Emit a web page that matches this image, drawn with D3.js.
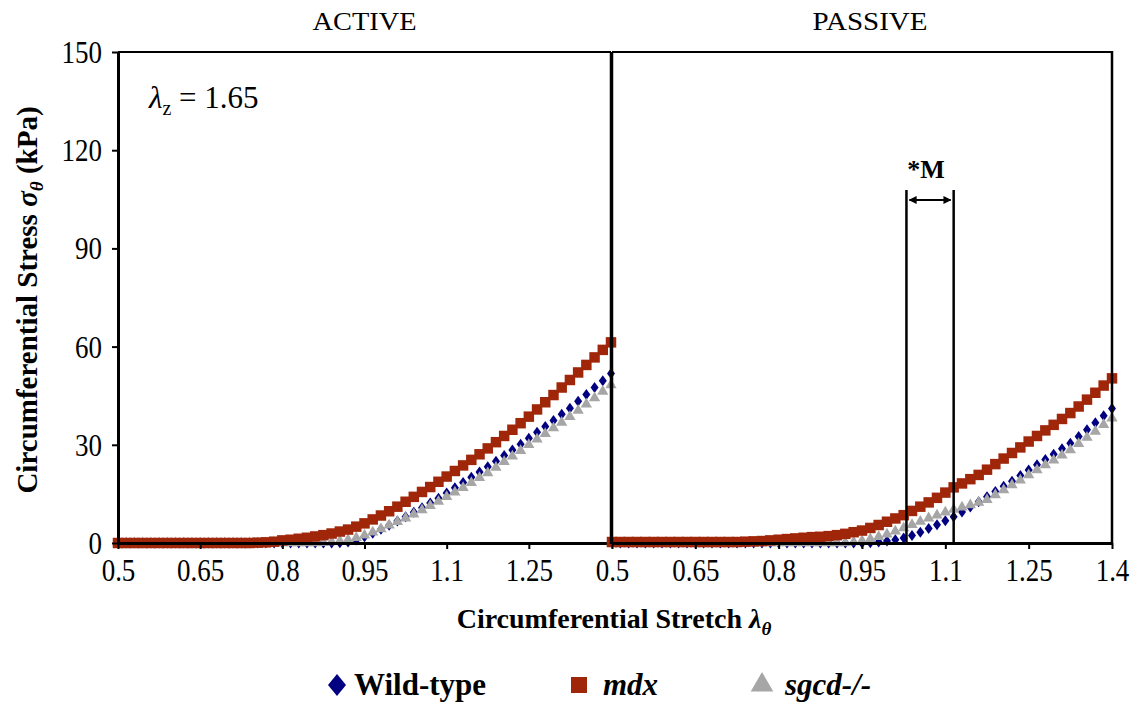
<!DOCTYPE html>
<html>
<head>
<meta charset="utf-8">
<script src="https://d3js.org/d3.v7.min.js"></script>
<style>
  body { margin: 0; background: #fff; }
  svg { display: block; }
  text { font-family: "Liberation Serif", "Times New Roman", serif; fill: #000; }
</style>
</head>
<body>
<svg id="drawing_region"></svg>
<script>
// circumferential stretch values (x), same for every series
const stretch = [
    0.5, 0.515, 0.53, 0.545, 0.56, 0.575, 0.59, 0.605, 0.62, 0.635,
    0.65, 0.665, 0.68, 0.695, 0.71, 0.725, 0.74, 0.755, 0.77, 0.785,
    0.8, 0.815, 0.83, 0.845, 0.86, 0.875, 0.89, 0.905, 0.92, 0.935,
    0.95, 0.965, 0.98, 0.995, 1.01, 1.025, 1.04, 1.055, 1.07, 1.085,
    1.1, 1.115, 1.13, 1.145, 1.16, 1.175, 1.19, 1.205, 1.22, 1.235,
    1.25, 1.265, 1.28, 1.295, 1.31, 1.325, 1.34, 1.355, 1.37, 1.385,
    1.4
];

// ACTIVE stress (kPa)
const activeWT = [
    0, 0, 0, 0, 0, 0, 0, 0, 0, 0,
    0, 0, 0, 0, 0, 0, 0, 0, 0, 0,
    0, 0, 0, 0, 0, 0, 0, 0.1, 0.3, 0.9,
    1.9, 3.0, 4.2, 5.4, 6.7, 8.0, 9.4, 10.8, 12.2, 13.7,
    15.3, 16.9, 18.5, 20.1, 21.7, 23.3, 25.0, 26.7, 28.4, 30.2,
    32.0, 33.8, 35.6, 37.4, 39.3, 41.2, 43.3, 45.4, 47.5, 49.6,
    51.8
];
const activeMdx = [
    0, 0, 0, 0, 0, 0, 0, 0, 0, 0,
    0, 0, 0, 0, 0, 0, 0, 0.1, 0.2, 0.4,
    0.8, 1.0, 1.3, 1.6, 2.0, 2.4, 2.9, 3.5, 4.1, 5.0,
    6.0, 7.2, 8.4, 9.7, 11.1, 12.6, 14.1, 15.6, 17.1, 18.7,
    20.3, 22.0, 23.7, 25.4, 27.1, 28.9, 30.8, 32.7, 34.6, 36.6,
    38.6, 40.8, 43.0, 45.2, 47.5, 49.8, 52.1, 54.4, 56.7, 59.0,
    61.3
];
const activeSgcd = [
    0, 0, 0, 0, 0, 0, 0, 0, 0, 0,
    0, 0, 0, 0, 0, 0, 0, 0, 0, 0,
    0, 0, 0, 0, 0, 0.1, 0.3, 0.6, 1.0, 1.6,
    2.4, 3.3, 4.3, 5.4, 6.5, 7.6, 8.8, 10.1, 11.4, 12.7,
    14.1, 15.5, 16.9, 18.4, 19.9, 21.4, 23.1, 24.8, 26.5, 28.2,
    30.0, 31.7, 33.4, 35.1, 36.8, 38.6, 40.5, 42.4, 44.3, 46.3,
    48.3
];

// PASSIVE stress (kPa)
const passiveWT = [
    0, 0, 0, 0, 0, 0, 0, 0, 0, 0,
    0, 0, 0, 0, 0, 0, 0, 0, 0, 0,
    0, 0, 0, 0, 0, 0, 0, 0, 0, 0,
    0, 0.1, 0.3, 0.6, 1.0, 1.5, 2.3, 3.3, 4.4, 5.6,
    6.8, 8.0, 9.5, 11.0, 12.6, 14.1, 15.7, 17.3, 18.9, 20.6,
    22.3, 23.9, 25.5, 27.1, 28.8, 30.5, 32.5, 34.6, 36.7, 38.9,
    41.1
];
const passiveMdx = [
    0.3, 0.3, 0.3, 0.3, 0.3, 0.3, 0.3, 0.3, 0.3, 0.3,
    0.3, 0.3, 0.3, 0.3, 0.3, 0.3, 0.4, 0.5, 0.6, 0.8,
    1.0, 1.2, 1.4, 1.6, 1.8, 1.9, 2.1, 2.4, 2.8, 3.3,
    3.8, 4.6, 5.5, 6.5, 7.5, 8.5, 9.8, 11.1, 12.4, 13.8,
    15.4, 17.0, 18.2, 19.5, 20.8, 22.4, 24.1, 25.8, 27.5, 29.2,
    31.0, 32.7, 34.4, 36.1, 37.9, 39.7, 41.7, 43.8, 45.9, 48.1,
    50.3
];
const passiveSgcd = [
    0, 0, 0, 0, 0, 0, 0, 0, 0, 0,
    0, 0, 0, 0, 0, 0, 0, 0, 0, 0,
    0, 0, 0, 0, 0, 0, 0, 0, 0, 0.3,
    0.7, 1.2, 1.9, 2.7, 3.6, 4.6, 5.6, 6.6, 7.6, 8.5,
    9.4, 10.2, 10.9, 11.6, 12.4, 13.2, 14.7, 16.2, 17.7, 19.2,
    20.8, 22.3, 23.8, 25.3, 26.8, 28.4, 30.3, 32.2, 34.1, 36.1,
    38.1
];

const stretchTicks = [0.5, 0.65, 0.8, 0.95, 1.1, 1.25, 1.4];
const stressTicks = [0, 30, 60, 90, 120, 150];
const panelTitles = ['ACTIVE', 'PASSIVE'];
const seriesNames = ['Wild-type', 'mdx', 'sgcd-/-'];
const markRange = [1.03, 1.115];   // "*M" bracket in the passive panel

const colors = { wt: '#000080', mdx: '#a0260a', sgcd: '#a6a6a6' };

const W = 1138, H = 704;
const svg = d3.select('#drawing_region')
    .attr('width', W)
    .attr('height', H)
    .attr('font-family', '"Liberation Serif", "Times New Roman", serif');

svg.append('rect').attr('width', W).attr('height', H).attr('fill', '#fff');

const yscale = d3.scaleLinear().domain([0, 150]).range([543, 52]);

const panels = [
    { title: panelTitles[0], xscale: d3.scaleLinear().domain([0.5, 1.4]).range([118, 611]),
      ticks: stretchTicks.slice(0, 6), wt: activeWT, mdx: activeMdx, sgcd: activeSgcd },
    { title: panelTitles[1], xscale: d3.scaleLinear().domain([0.5, 1.4]).range([612, 1112]),
      ticks: stretchTicks, wt: passiveWT, mdx: passiveMdx, sgcd: passiveSgcd }
];

const diamond = (w, h) => `M0,${-h / 2}L${w / 2},0L0,${h / 2}L${-w / 2},0Z`;
const marks = {
    wt: diamond(8, 11),
    sgcd: d3.symbol(d3.symbolTriangle, 55)(),
    mdx: d3.symbol(d3.symbolSquare, 110)()
};

const tickFont = 31, squeeze = 0.87;

panels.forEach((p, k) => {
    const x0 = p.xscale.range()[0], x1 = p.xscale.range()[1];

    // top border
    svg.append('line')
        .attr('x1', x0).attr('x2', x1)
        .attr('y1', yscale(150)).attr('y2', yscale(150))
        .attr('stroke', '#000').attr('stroke-width', 2);

    // title
    svg.append('text')
        .attr('x', (x0 + x1) / 2 + (k == 0 ? 0 : 8))
        .attr('y', 30)
        .attr('text-anchor', 'middle')
        .attr('font-size', 25)
        .attr('textLength', k == 0 ? 104 : 115)
        .attr('lengthAdjust', 'spacingAndGlyphs')
        .text(p.title);

    // markers, drawn WT -> sgcd -> mdx
    ['wt', 'sgcd', 'mdx'].forEach(key => {
        svg.append('g')
            .selectAll('path')
            .data(stretch.map((s, i) => ({ s: s, v: p[key][i] })))
            .join('path')
            .attr('d', marks[key])
            .attr('transform', d => `translate(${p.xscale(d.s)},${yscale(d.v)})`)
            .attr('fill', colors[key]);
    });

    // x axis
    const xaxis = d3.axisBottom(p.xscale)
        .tickValues(p.ticks)
        .tickSize(6)
        .tickSizeOuter(0)
        .tickPadding(10)
        .tickFormat(d => String(d));

    const gx = svg.append('g')
        .attr('transform', `translate(0, ${yscale(0)})`)
        .call(xaxis);
    gx.attr('font-family', null).attr('font-size', null);
    gx.select('.domain').attr('stroke-width', 3);
    gx.selectAll('.tick line').attr('stroke-width', 2);
    gx.selectAll('.tick text')
        .attr('font-size', tickFont)
        .attr('transform', `scale(${squeeze},1)`);
});

// y axis on the left panel
const yaxis = d3.axisLeft(yscale)
    .tickValues(stressTicks)
    .tickSize(6)
    .tickSizeOuter(0);

const gy = svg.append('g')
    .attr('transform', `translate(118, 0)`)
    .call(yaxis);
gy.attr('font-family', null).attr('font-size', null);
gy.select('.domain').attr('stroke-width', 3);
gy.selectAll('.tick line').attr('stroke-width', 2);
gy.selectAll('.tick text')
    .attr('font-size', tickFont)
    .attr('x', -16 / squeeze)
    .attr('dy', '0.34em')
    .attr('transform', `scale(${squeeze},1)`);

// divider between panels and right border
svg.append('line')
    .attr('x1', 611.5).attr('x2', 611.5)
    .attr('y1', yscale(150)).attr('y2', yscale(0) + 1)
    .attr('stroke', '#000').attr('stroke-width', 3.5);
svg.append('line')
    .attr('x1', 1112).attr('x2', 1112)
    .attr('y1', yscale(150) - 1).attr('y2', yscale(0))
    .attr('stroke', '#000').attr('stroke-width', 2.5);

// lambda_z note
const lz = svg.append('text')
    .attr('x', 149).attr('y', 108)
    .attr('font-size', 31);
lz.append('tspan').attr('font-style', 'italic').text('λ');
lz.append('tspan').attr('font-size', 20).attr('dy', 7).text('z');
lz.append('tspan').attr('dy', -7).text(' = 1.65');

// "*M" bracket on the passive panel
const xp = panels[1].xscale;
[markRange[0], markRange[1]].forEach(v => {
    svg.append('line')
        .attr('x1', xp(v)).attr('x2', xp(v))
        .attr('y1', 190).attr('y2', yscale(0))
        .attr('stroke', '#000').attr('stroke-width', 2.5);
});
const defs = svg.append('defs');
defs.append('marker')
    .attr('id', 'arrow')
    .attr('viewBox', '0 0 10 10')
    .attr('refX', 9).attr('refY', 5)
    .attr('markerWidth', 4).attr('markerHeight', 4)
    .attr('orient', 'auto-start-reverse')
    .append('path')
    .attr('d', 'M0,0L10,5L0,10Z')
    .attr('fill', '#000');
svg.append('line')
    .attr('x1', xp(markRange[0]) + 3).attr('x2', xp(markRange[1]) - 3)
    .attr('y1', 200).attr('y2', 200)
    .attr('stroke', '#000').attr('stroke-width', 2)
    .attr('marker-start', 'url(#arrow)')
    .attr('marker-end', 'url(#arrow)');
svg.append('text')
    .attr('x', (xp(markRange[0]) + xp(markRange[1])) / 2 - 4)
    .attr('y', 178)
    .attr('text-anchor', 'middle')
    .attr('font-size', 26)
    .attr('font-weight', 'bold')
    .text('*M');

// axis titles
const ylab = svg.append('text')
    .attr('transform', 'translate(37, 300) rotate(-90)')
    .attr('text-anchor', 'middle')
    .attr('font-size', 29)
    .attr('font-weight', 'bold');
ylab.append('tspan').text('Circumferential Stress ');
ylab.append('tspan').attr('font-style', 'italic').text('σ');
ylab.append('tspan').attr('font-style', 'italic').attr('font-size', 19).attr('dy', 6).text('θ');
ylab.append('tspan').attr('dy', -6).text(' (kPa)');

const xlab = svg.append('text')
    .attr('x', 614).attr('y', 628)
    .attr('text-anchor', 'middle')
    .attr('font-size', 28)
    .attr('font-weight', 'bold');
xlab.append('tspan').text('Circumferential Stretch ');
xlab.append('tspan').attr('font-style', 'italic').text('λ');
xlab.append('tspan').attr('font-style', 'italic').attr('font-size', 19).attr('dy', 7).text('θ');

// legend
const legend = [
    { key: 'wt', shape: diamond(18, 22), cx: 337, tx: 354, italic: false },
    { key: 'mdx', shape: d3.symbol(d3.symbolSquare, 256)(), cx: 579, tx: 603, italic: true },
    { key: 'sgcd', shape: d3.symbol(d3.symbolTriangle, 220)(), cx: 762, tx: 785, italic: true }
];
legend.forEach((d, i) => {
    svg.append('path')
        .attr('d', d.shape)
        .attr('transform', `translate(${d.cx}, 685)`)
        .attr('fill', colors[d.key]);
    svg.append('text')
        .attr('x', d.tx).attr('y', 695)
        .attr('font-size', 31)
        .attr('font-weight', 'bold')
        .attr('font-style', d.italic ? 'italic' : 'normal')
        .text(seriesNames[i]);
});
</script>
</body>
</html>
